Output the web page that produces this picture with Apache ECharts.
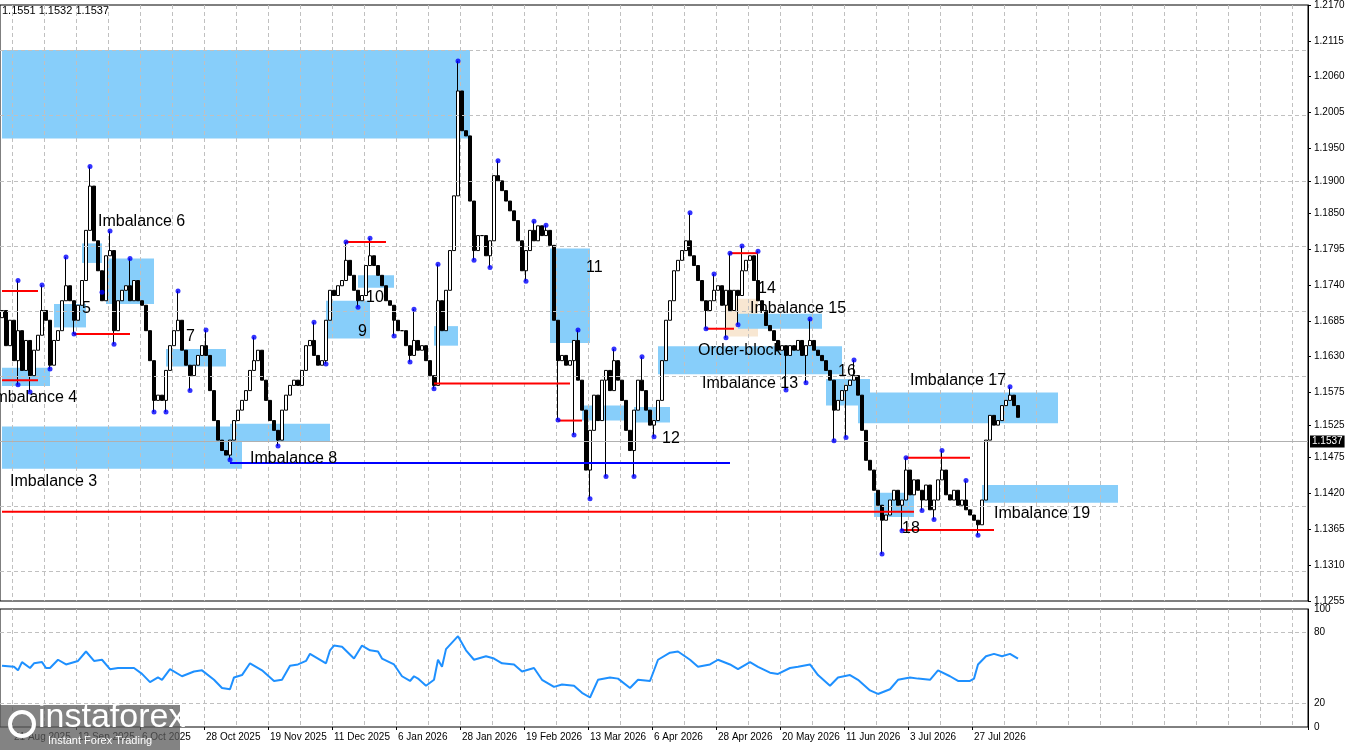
<!DOCTYPE html>
<html><head><meta charset="utf-8">
<script src="https://cdn.jsdelivr.net/npm/echarts@6/dist/echarts.min.js"></script>
<style>html,body{margin:0;padding:0;background:#fff}#c{width:1350px;height:750px}</style>
</head><body><div id="c"></div>
<script>
// ---- data ----
const closes = [
1.1701,1.1647,1.1686,1.1624,1.1670,1.1609,1.1655,1.1601,1.1640,1.1663,
1.1701,1.1686,1.1617,1.1655,1.1670,1.1716,1.1739,1.1716,1.1686,1.1709,
1.1747,1.1824,1.1892,1.1808,1.1762,1.1716,1.1785,1.1793,1.1670,1.1716,
1.1732,1.1739,1.1716,1.1747,1.1716,1.1709,1.1670,1.1624,1.1563,1.1571,
1.1563,1.1609,1.1647,1.1670,1.1686,1.1640,1.1617,1.1601,1.1617,1.1632,
1.1647,1.1632,1.1578,1.1532,1.1502,1.1486,1.1479,1.1502,1.1532,1.1548,
1.1563,1.1578,1.1609,1.1624,1.1640,1.1594,1.1563,1.1532,1.1517,1.1502,
1.1548,1.1571,1.1586,1.1594,1.1586,1.1609,1.1647,1.1655,1.1632,1.1617,
1.1624,1.1686,1.1732,1.1724,1.1739,1.1747,1.1778,1.1755,1.1732,1.1716,
1.1724,1.1770,1.1785,1.1770,1.1755,1.1739,1.1716,1.1709,1.1686,1.1670,
1.1670,1.1647,1.1632,1.1655,1.1640,1.1647,1.1624,1.1601,
1.1586,1.1716,1.1670,1.1732,1.1793,1.1877,1.2038,1.1977,1.1969,1.1869,1.1793,1.1816,
1.1816,1.1785,1.1808,1.1908,1.1900,1.1885,1.1869,1.1854,1.1839,1.1808,
1.1762,1.1793,1.1824,1.1808,1.1831,1.1816,1.1824,1.1801,1.1686,1.1624,
1.1632,1.1617,1.1624,1.1655,1.1594,1.1548,1.1456,1.1517,1.1571,1.1532,
1.1594,1.1609,1.1578,1.1624,1.1594,1.1563,1.1517,1.1486,1.1548,1.1594,
1.1578,1.1548,1.1525,1.1532,1.1563,1.1624,1.1686,1.1716,1.1762,1.1778,
1.1793,1.1808,1.1785,1.1770,1.1747,1.1716,1.1701,1.1716,1.1732,1.1739,
1.1709,1.1732,1.1701,1.1732,1.1724,1.1762,1.1778,1.1785,1.1747,1.1716,
1.1701,1.1678,1.1670,1.1655,1.1640,1.1647,1.1632,1.1647,1.1640,1.1655,
1.1632,1.1647,1.1655,1.1640,1.1632,1.1624,1.1609,1.1594,1.1548,1.1563,
1.1578,1.1586,1.1594,1.1601,1.1571,1.1517,1.1471,1.1456,1.1425,1.1402,
1.1379,1.1387,1.1410,1.1425,1.1402,1.1410,1.1456,1.1418,1.1441,1.1425,
1.1410,1.1433,1.1395,1.1410,1.1441,1.1456,1.1418,1.1410,1.1425,1.1402,
1.1410,1.1395,1.1387,1.1379,1.1372,1.1410,1.1502,1.1540,1.1525,1.1532,
1.1555,1.1563,1.1571,1.1555,1.1537];
const firstOpen = 1.1690;
const pivotHighIdx = [4,10,16,22,27,32,44,51,63,78,86,92,103,109,114,124,133,136,144,153,160,172,178,182,185,189,202,213,226,235,241,252];
const pivotHighVal = [1.1747,1.1740,1.1783,1.1922,1.1823,1.1781,1.1731,1.1671,1.1660,1.1683,1.1806,1.1812,1.1703,1.1772,1.2084,1.1931,1.1838,1.1832,1.1671,1.1642,1.1630,1.1851,1.1757,1.1789,1.1800,1.1792,1.1688,1.1625,1.1475,1.1486,1.1440,1.1584];
const pivotLowIdx = [4,7,12,18,25,28,38,41,47,57,69,81,89,98,102,108,118,122,131,139,143,147,151,158,163,176,181,184,196,201,208,211,220,225,230,233,244];
const pivotLowVal = [1.1587,1.1576,1.1611,1.1665,1.1729,1.1649,1.1545,1.1545,1.1578,1.1472,1.1493,1.1619,1.1706,1.1662,1.1622,1.1581,1.1778,1.1767,1.1746,1.1533,1.1510,1.1412,1.1446,1.1446,1.1507,1.1673,1.1659,1.1679,1.1579,1.1590,1.1501,1.1506,1.1327,1.1363,1.1394,1.1380,1.1356];
const rsiIdx = [0,3,4,5,7,8,10,11,12,14,16,19,21,23,25,27,29,33,35,37,39,40,42,45,48,50,53,55,57,58,60,62,65,68,70,72,74,76,77,79,81,82,83,85,88,90,92,94,95,98,100,102,103,104,106,108,109,110,111,114,116,118,121,123,125,128,130,133,135,138,140,143,145,147,149,152,154,157,159,162,164,167,169,172,174,177,179,182,184,187,189,192,194,197,199,202,204,207,209,212,214,217,219,222,224,227,229,232,234,237,239,242,243,244,246,248,250,252,254];
const rsiVal = [52,51,48,55,50,54,55,50,50,57,53,56,64,56,57,49,50,50,45,38,42,40,49,43,47,48,40,33,32,42,44,54,48,39,40,52,53,56,62,58,54,65,69,68,58,69,65,64,58,53,43,39,43,41,35,40,57,51,66,77,65,57,60,58,54,53,47,50,40,34,36,35,29,25,40,42,41,33,40,39,57,63,64,57,51,53,57,53,49,55,51,46,45,50,51,53,44,35,42,44,40,31,28,32,40,42,41,40,48,43,39,39,41,53,60,62,60,62,58];
const tickIdx = [3,19,35,51,67,83,99,115,131,147,163,179,195,211,227,243];
const tickLabels = ['21 Aug 2025','12 Sep 2025','6 Oct 2025','28 Oct 2025','19 Nov 2025','11 Dec 2025','6 Jan 2026','28 Jan 2026','19 Feb 2026','13 Mar 2026','6 Apr 2026','28 Apr 2026','20 May 2026','11 Jun 2026','3 Jul 2026','27 Jul 2026'];
const priceTicks = [1.2170,1.2115,1.2060,1.2005,1.1950,1.1900,1.1850,1.1795,1.1740,1.1685,1.1630,1.1575,1.1525,1.1475,1.1420,1.1365,1.1310,1.1255];
const rsiTicks = [0,20,80,100];
// zones: [startBar, endBar, top, bottom, kind]
const zones = [
[0,116,1.2101,1.1965,'b'],[0,59,1.1523,1.1458,'b'],[0,11,1.1613,1.1585,'b'],[13,20,1.1711,1.1675,'b'],
[20,24,1.1804,1.1774,'b'],[26,37,1.1781,1.1711,'b'],[41,55,1.1642,1.1615,'b'],[57,81,1.1527,1.1500,'b'],
[81,91,1.1716,1.1658,'b'],[89,97,1.1755,1.1736,'b'],[108,113,1.1677,1.1647,'b'],[137,146,1.1796,1.1651,'b'],
[145,155,1.1555,1.1532,'b'],[158,166,1.1553,1.1529,'b'],[164,209,1.1646,1.1603,'b'],[181,188,1.1719,1.1661,'o'],
[184,204,1.1696,1.1673,'b'],[206,216,1.1596,1.1555,'b'],[214,263,1.1575,1.1528,'b'],[218,227,1.1421,1.1384,'b'],
[245,278,1.1433,1.1406,'b']];
// levels: [startBar, endBar, price, kind]
const levels = [
[0,8,1.1731,'r'],[0,8,1.1594,'r'],[18,31,1.1665,'r'],[86,95,1.1806,'r'],[108,141,1.1589,'r'],[139,144,1.1532,'r'],
[57,181,1.1467,'k'],[176,182,1.1673,'r'],[182,188,1.1789,'r'],[0,227,1.1392,'r'],[226,241,1.1475,'r'],[225,247,1.1364,'r']];
const labelText = ['Imbalance 6','5','Imbalance 4','Imbalance 3','7','Imbalance 8','9','10','11','12','Order-block','Imbalance 13','14','Imbalance 15','16','Imbalance 17','18','Imbalance 19'];
const labelBar = [23.5,20,-3.5,2,45.5,61.5,89,90.5,145.5,164.5,173.5,175,189,186.5,208.5,227,224.5,248];
const labelPrice = [1.1838,1.1704,1.1568,1.1439,1.1661,1.1474,1.1669,1.1721,1.1767,1.1505,1.1640,1.1589,1.1735,1.1704,1.1607,1.1593,1.1366,1.1389];
const lastPrice = 1.1537;

// ---- build ----
const N = 327;
const cats = Array.from({length:N},(_,i)=>String(i));
const hiMap = {}, loMap = {};
pivotHighIdx.forEach((k,j)=>hiMap[k]=pivotHighVal[j]);
pivotLowIdx.forEach((k,j)=>loMap[k]=pivotLowVal[j]);
const candles = closes.map((c,i)=>{
  const o = i===0?firstOpen:closes[i-1];
  let h = Math.max(o,c), l = Math.min(o,c);
  if (hiMap[i]!==undefined) h = Math.max(h,hiMap[i]);
  if (loMap[i]!==undefined) l = Math.min(l,loMap[i]);
  return [o,c,l,h];
});
const tickMap = {}; tickIdx.forEach((k,j)=>tickMap[k]=tickLabels[j]);
const font = 'Liberation Sans';
const gridDash = {color:'#c0c0c0',type:[4,3],width:1};

const chart = echarts.init(document.getElementById('c'));
chart.setOption({
  animation:false,
  grid:[
    {left:0,right:42,top:4,height:597,show:true,borderColor:'#000',borderWidth:1,backgroundColor:'#fff'},
    {left:0,right:42,top:609,height:118,show:true,borderColor:'#000',borderWidth:1}
  ],
  xAxis:[
    {type:'category',gridIndex:0,data:cats,boundaryGap:true,z:1,axisLine:{show:false},axisTick:{show:false},axisLabel:{show:false},
     splitLine:{show:true,interval:(i)=>i%8===3,lineStyle:gridDash}},
    {type:'category',gridIndex:1,data:cats,boundaryGap:true,z:1,axisLine:{show:false},
     axisTick:{show:true,interval:(i)=>tickMap[i]!==undefined,length:3,lineStyle:{color:'#000'}},
     axisLabel:{interval:(i)=>tickMap[i]!==undefined,formatter:(v)=>tickMap[+v]||'',align:'left',margin:5,color:'#000',fontFamily:font,fontSize:10},
     splitLine:{show:true,interval:(i)=>i%8===3,lineStyle:gridDash}}
  ],
  yAxis:[
    {type:'value',gridIndex:0,position:'right',min:1.1255,max:1.2170,z:1,
     axisLine:{show:true,lineStyle:{color:'#000'}},
     axisTick:{show:true,length:3,customValues:priceTicks,lineStyle:{color:'#000'}},
     axisLabel:{customValues:priceTicks,formatter:(v)=>v.toFixed(4),color:'#000',fontFamily:font,fontSize:10,margin:6},
     splitLine:{show:false}},
    {type:'value',gridIndex:1,position:'right',min:0,max:100,z:1,
     axisLine:{show:true,lineStyle:{color:'#000'}},axisTick:{show:false},
     axisLabel:{customValues:rsiTicks,formatter:(v)=>String(v),color:'#000',fontFamily:font,fontSize:10,margin:6},
     splitLine:{show:false}}
  ],
  graphic:[
    {type:'text',left:2,top:5,style:{text:'1.1551 1.1532 1.1537',font:'11px '+font,fill:'#000'}},
    {type:'rect',shape:{x:0,y:705,width:180,height:45},style:{fill:'rgba(90,90,90,0.75)'},z:100},
    {type:'text',left:38,top:701,style:{text:'instaforex',font:'34px '+font,fill:'#fff'},z:101},
    {type:'text',left:48,top:735,style:{text:'Instant Forex Trading',font:'11px '+font,fill:'#fff'},z:101},
    {type:'circle',shape:{cx:22,cy:724,r:12},style:{fill:'none',stroke:'#fff',lineWidth:4},z:101}
  ],
  series:[
    {type:'custom',xAxisIndex:0,yAxisIndex:0,z:0,silent:true,data:zones.map(z=>[z[0],z[1],z[2],z[3]]),
     encode:{x:[0,1],y:[2,3]},
     renderItem:(params,api)=>{
       const z = zones[params.dataIndex];
       const p1 = api.coord([z[0]-0.5,z[2]]), p2 = api.coord([z[1]+0.5,z[3]]);
       return {type:'rect',shape:{x:p1[0],y:p1[1],width:p2[0]-p1[0],height:p2[1]-p1[1]},
         style:{fill:z[4]==='o'?'#f8e7d2':'#87cefa'}};
     }},
    {type:'candlestick',xAxisIndex:0,yAxisIndex:0,z:3,barWidth:3,data:candles,
     itemStyle:{color:'#fff',color0:'#000',borderColor:'#000',borderColor0:'#000',borderWidth:1},
     markLine:{silent:true,symbol:'none',
       data:priceTicks.slice(1,-1).map(v=>({yAxis:v,lineStyle:gridDash,label:{show:false}})).concat([{yAxis:lastPrice}]),
       lineStyle:{color:'#b0b0b0',type:'solid',width:1},
       label:{position:'end',formatter:()=>lastPrice.toFixed(4),color:'#fff',backgroundColor:'#000',padding:[1,2],fontFamily:font,fontSize:10,distance:2}}},
    {type:'custom',xAxisIndex:0,yAxisIndex:0,z:4,silent:true,data:levels.map(l=>[l[0],l[1],l[2]]),
     encode:{x:[0,1],y:2},
     renderItem:(params,api)=>{
       const l = levels[params.dataIndex];
       const p1 = api.coord([l[0]-0.5,l[2]]), p2 = api.coord([l[1]+0.5,l[2]]);
       return {type:'line',shape:{x1:p1[0],y1:p1[1],x2:p2[0],y2:p2[1]},
         style:{stroke:l[3]==='r'?'#ff0000':'#0000ff',lineWidth:2}};
     }},
    {type:'scatter',xAxisIndex:0,yAxisIndex:0,z:5,symbolSize:5,itemStyle:{color:'#0000ff'},
     data:pivotHighIdx.map((k,j)=>[k,pivotHighVal[j]]).concat(pivotLowIdx.map((k,j)=>[k,pivotLowVal[j]]))},
    {type:'custom',xAxisIndex:0,yAxisIndex:0,z:6,silent:true,data:labelText.map((t,j)=>[labelBar[j],labelPrice[j]]),
     encode:{x:0,y:1},
     renderItem:(params,api)=>{
       const j = params.dataIndex;
       const p = api.coord([labelBar[j],labelPrice[j]]);
       return {type:'text',x:p[0],y:p[1],style:{text:labelText[j],fill:'#000',font:'16px '+font,textVerticalAlign:'middle',textAlign:'left'}};
     }},
    {type:'line',xAxisIndex:1,yAxisIndex:1,z:3,symbol:'none',data:rsiIdx.map((k,j)=>[k,rsiVal[j]]),
     lineStyle:{color:'#1e90ff',width:2},
     markLine:{silent:true,symbol:'none',label:{show:false},lineStyle:gridDash,data:[{yAxis:20},{yAxis:80}]}}
  ]
});
</script></body></html>
